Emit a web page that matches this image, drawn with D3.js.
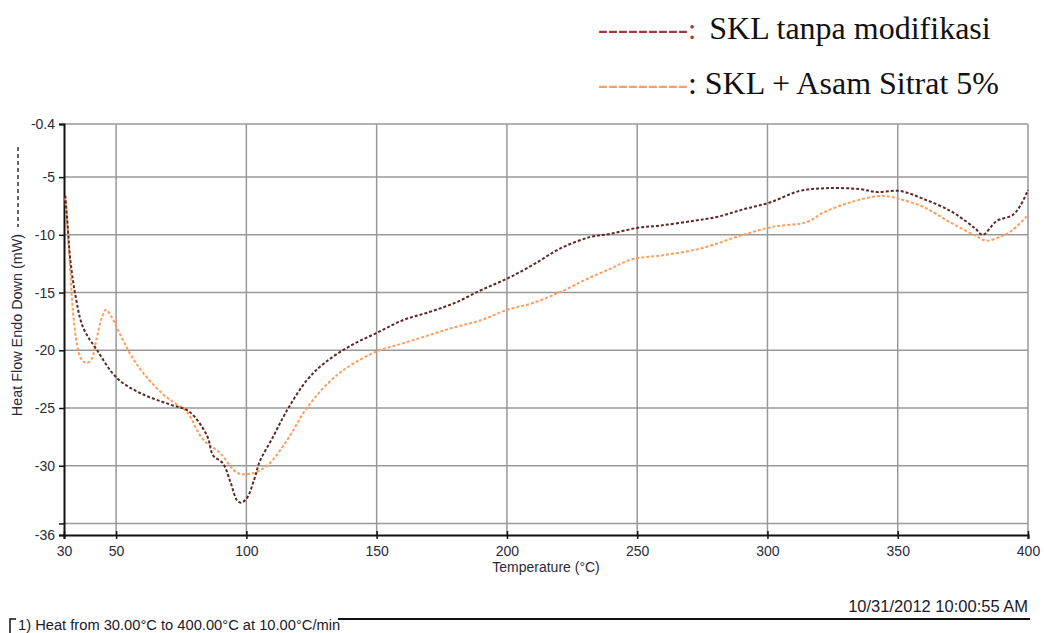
<!DOCTYPE html>
<html>
<head>
<meta charset="utf-8">
<script src="https://cdn.jsdelivr.net/npm/d3@7"></script>
<style>
  body { margin: 0; background: #fff; }
  .tick text { font-family: "Liberation Sans", Arial, sans-serif; font-size: 14px; fill: #2a2a3a; }
  .grid line { stroke: #999; stroke-width: 1.5; }
</style>
</head>
<body>
<script>
// DSC curves, heat flow (mW) against temperature (C)

// SKL tanpa modifikasi
var tempPlain = [30.5, 31.5, 32.3, 34.2, 37.3, 42.7, 50.3, 59.2, 70.7, 78, 84.9, 87.2, 91, 94, 96.4,
                 98, 100.2, 103, 105.2, 110, 115.6, 123.2, 130, 140, 150, 160, 170, 180, 190, 200,
                 210, 220.3, 231.8, 240, 249.9, 258.7, 271.4, 280.6, 290.6, 300.9, 312.4, 322.8,
                 335.4, 342, 350.8, 360, 370, 376, 380, 382.6, 388, 394, 397, 400]
var flowPlain = [-6.6, -9.5, -11.9, -15, -18, -20, -22.4, -23.7, -24.7, -25.3, -27.4, -29.1, -29.8, -31.5, -33.0,
                 -33.2, -32.8, -31.2, -29.6, -27.6, -25.2, -22.6, -21.1, -19.6, -18.5, -17.4, -16.7, -15.9, -14.8, -13.8,
                 -12.6, -11.2, -10.2, -9.9, -9.4, -9.2, -8.8, -8.45, -7.8, -7.2, -6.2, -5.96,
                 -6.04, -6.3, -6.2, -6.9, -7.9, -8.8, -9.5, -10.0, -8.8, -8.3, -7.5, -6.1]

// SKL + Asam Sitrat 5%
var tempCitric = [30.5, 31.5, 32.5, 33.5, 35, 36.5, 38.5, 40.5, 42.5, 44.5, 46, 48, 50, 53, 57, 62, 68, 72,
                  77, 83.3, 89.9, 96.4, 101.4, 107.9, 115.6, 122, 128.2, 135, 140, 150, 160, 170, 180, 190,
                  200, 210, 220, 230, 240, 248.3, 258.7, 274, 290.6, 302.1, 315.1, 321.2, 331.6, 342, 345.8,
                  350.8, 360, 370, 380, 384, 390, 394, 400]
var flowCitric = [-6.8, -9.8, -13.5, -16.8, -19.5, -20.7, -21.1, -20.8, -19, -17.2, -16.5, -17, -17.9, -19.3, -20.9, -22.4, -23.8, -24.5,
                  -25.3, -27.7, -28.9, -30.6, -30.7, -30.0, -27.8, -25.4, -23.6, -22.1, -21.3, -20.1, -19.4, -18.7, -18.0, -17.4,
                  -16.5, -15.9, -15.0, -13.9, -12.9, -12.1, -11.8, -11.2, -10.0, -9.3, -8.9, -8.1, -7.2, -6.65, -6.65,
                  -6.9, -7.6, -8.9, -10.1, -10.5, -10.1, -9.6, -8.3]

var xTicks = [30, 50, 100, 150, 200, 250, 300, 350, 400]
var yTicks = [-0.4, -5, -10, -15, -20, -25, -30, -35, -36]
var yLabelled = [-0.4, -5, -10, -15, -20, -25, -30, -36]

var w = 1044
var h = 633
var margins = {left: 64, right: 16, upper: 124, lower: 98}

var svg = d3.select("body")
            .append("svg")
            .attr("width", w)
            .attr("height", h)

var xScale = d3.scaleLinear()
               .domain([30, 400])
               .range([margins.left, w - margins.right])
var yScale = d3.scaleLinear()
               .domain([-36, -0.4])
               .range([h - margins.lower, margins.upper])

// gray grid, drawn first so the axes sit on top
svg.append("g")
   .attr("class", "grid")
   .selectAll("line.v")
   .data(xTicks.slice(1))
   .enter()
   .append("line")
   .attr("x1", function(d) { return xScale(d) })
   .attr("x2", function(d) { return xScale(d) })
   .attr("y1", yScale(-0.4))
   .attr("y2", yScale(-36))

svg.append("g")
   .attr("class", "grid")
   .selectAll("line.h")
   .data(yTicks.filter(function(d) { return d != -36 }))
   .enter()
   .append("line")
   .attr("x1", xScale(30))
   .attr("x2", xScale(400))
   .attr("y1", function(d) { return yScale(d) })
   .attr("y2", function(d) { return yScale(d) })

// axes
var yAxis = svg.append("g")
   .attr("transform", "translate(" + margins.left + ",0)")
   .call(d3.axisLeft(yScale)
           .tickValues(yTicks)
           .tickSize(5)
           .tickPadding(4)
           .tickFormat(function(d) { return yLabelled.indexOf(d) >= 0 ? String(d) : "" }))
var xAxis = svg.append("g")
   .attr("transform", "translate(0," + yScale(-36) + ")")
   .call(d3.axisBottom(xScale)
           .tickValues(xTicks)
           .tickSize(4)
           .tickPadding(7)
           .tickFormat(d3.format("d")))

svg.selectAll(".domain").attr("stroke", "#111").attr("stroke-width", 2)
svg.selectAll(".tick line").attr("stroke", "#111").attr("stroke-width", 1.5)
xAxis.selectAll(".tick line").attr("y1", -4)

// curves
var line = d3.line()
             .x(function(d) { return xScale(d[0]) })
             .y(function(d) { return yScale(d[1]) })
             .curve(d3.curveCatmullRom)

svg.append("path")
   .datum(d3.zip(tempCitric, flowCitric))
   .attr("d", line)
   .attr("fill", "none")
   .attr("stroke", "#ff9d5c")
   .attr("stroke-width", 2)
   .attr("stroke-dasharray", "3,2")

svg.append("path")
   .datum(d3.zip(tempPlain, flowPlain))
   .attr("d", line)
   .attr("fill", "none")
   .attr("stroke", "#5e2828")
   .attr("stroke-width", 2)
   .attr("stroke-dasharray", "3,2")

// axis labels
svg.append("text")
   .attr("transform", "translate(22,325) rotate(-90)")
   .style("text-anchor", "middle")
   .style("font-family", "Liberation Sans, Arial, sans-serif")
   .style("font-size", "14.4px")
   .attr("fill", "#2a2a3a")
   .text("Heat Flow Endo Down (mW)")

svg.append("line")
   .attr("x1", 18).attr("x2", 18)
   .attr("y1", 147).attr("y2", 227)
   .attr("stroke", "#333")
   .attr("stroke-width", 1.5)
   .attr("stroke-dasharray", "4,3")

svg.append("text")
   .attr("x", (xScale(30) + xScale(400)) / 2)
   .attr("y", 572)
   .style("text-anchor", "middle")
   .style("font-family", "Liberation Sans, Arial, sans-serif")
   .style("font-size", "14px")
   .attr("fill", "#2a2a3a")
   .text("Temperature (\u00b0C)")

// run info at the bottom
svg.append("text")
   .attr("x", 1028)
   .attr("y", 612)
   .style("text-anchor", "end")
   .style("font-family", "Liberation Sans, Arial, sans-serif")
   .style("font-size", "16.5px")
   .attr("fill", "#1a1a2a")
   .text("10/31/2012 10:00:55 AM")

svg.append("path")
   .attr("d", "M10,633V619H16")
   .attr("fill", "none")
   .attr("stroke", "#111")
   .attr("stroke-width", 1.5)

svg.append("text")
   .attr("x", 18)
   .attr("y", 630)
   .style("font-family", "Liberation Sans, Arial, sans-serif")
   .style("font-size", "14.7px")
   .attr("fill", "#1a1a2a")
   .text("1)  Heat from 30.00\u00b0C to 400.00\u00b0C at 10.00\u00b0C/min")

svg.append("line")
   .attr("x1", 338).attr("x2", 1030)
   .attr("y1", 619).attr("y2", 619)
   .attr("stroke", "#111")
   .attr("stroke-width", 2)

// legend
var legendNames = ["SKL tanpa modifikasi", "SKL + Asam Sitrat 5%"]
var legendColours = ["#9c3b3b", "#f7a05a"]

var legend = svg.selectAll(".legend")
                .data(legendNames)
                .enter()
                .append("text")
                .attr("class", "legend")
                .attr("x", 598)
                .attr("y", function(d, i) { return 39 + i * 55 })
                .style("font-family", "Liberation Serif, Times New Roman, serif")
                .style("font-size", "32px")
                .attr("fill", "#111")

legend.append("tspan")
      .attr("fill", function(d, i) { return legendColours[i] })
      .style("font-size", "30px")
      .text(function(d, i) { return i == 0 ? "---------:" : "---------" })
legend.append("tspan")
      .attr("dx", function(d, i) { return i == 0 ? 5 : 0 })
      .text(function(d, i) { return (i == 0 ? " " : ": ") + d })
</script>
</body>
</html>
